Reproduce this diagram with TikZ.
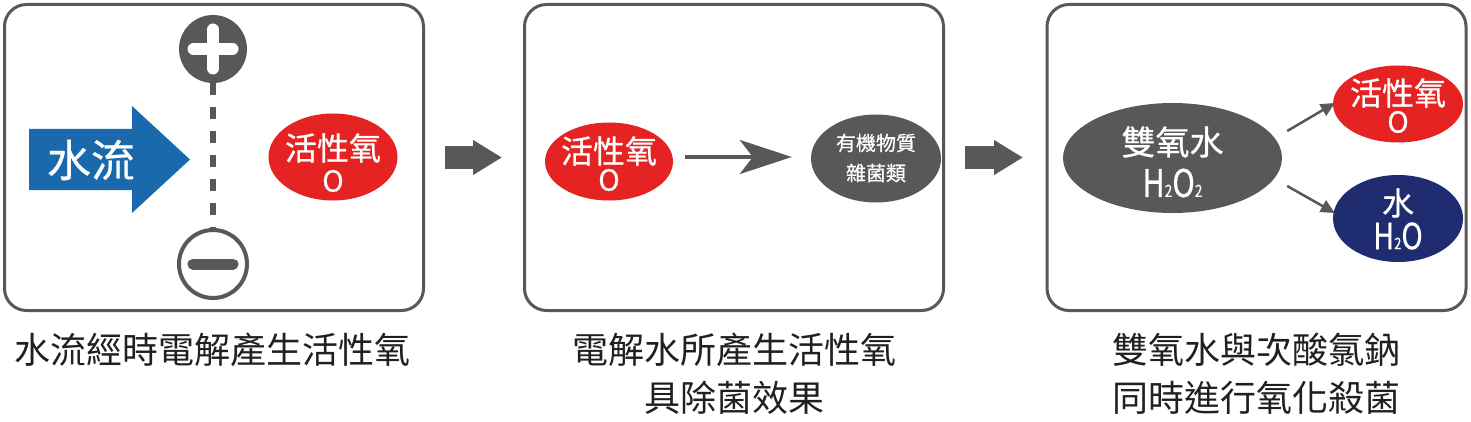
\documentclass[tikz,border=0pt]{standalone}
\usepackage{fontspec}
\newfontfamily\cjk{Noto Sans CJK TC}
\newfontfamily\cjkb[FakeBold=0.6]{Noto Sans CJK TC}
\usetikzlibrary{shapes.geometric,arrows.meta,calc}
\definecolor{dg}{HTML}{595757}
\definecolor{rd}{HTML}{E42322}
\definecolor{bl}{HTML}{1A69AC}
\definecolor{nv}{HTML}{202C70}
\definecolor{tx}{HTML}{231F20}
\tikzset{
  box/.style={draw=dg, line width=3pt, rounded corners=22pt, minimum width=419pt, minimum height=306pt, inner sep=0pt},
  ell/.style={ellipse, inner sep=0pt},
  wt/.style={text=white, inner sep=0pt, font=\cjkb\fontsize{#1}{#1}\selectfont},
  captext/.style={text=tx, inner sep=0pt, align=center, font=\cjk\fontsize{36}{48}\selectfont},
  blockarrow/.style={dg, line width=23pt, -{Triangle[length=29pt,width=33pt]}},
  thinarrow/.style={dg, line width=2.5pt, -{Triangle[length=14pt,width=13pt]}},
}
\begin{document}
\begin{tikzpicture}[x=1pt,y=-1pt]
\useasboundingbox (0,0) rectangle (1471,422);
% boxes
\node[box] (b1) at (214,157.5) {};
\node[box] (b2) at (734,157.5) {};
\node[box] (b3) at (1256.5,157.5) {};
% box 1
\fill[bl] (29,129) -- (132,129) -- (132,106) -- (190,159.5) -- (132,213) -- (132,190) -- (29,190) -- cycle;
\node[wt=44] (flow) at (91,160) {水流};
\node[circle, fill=dg, minimum size=68pt, inner sep=0pt] (plus) at (213,49) {};
\draw[white, line width=12pt, line cap=round] ([xshift=-19.5pt]plus.center) -- ([xshift=19.5pt]plus.center);
\draw[white, line width=12pt, line cap=round] ([yshift=-19.5pt]plus.center) -- ([yshift=19.5pt]plus.center);
\node[circle, draw=dg, line width=4pt, fill=white, minimum size=68pt, inner sep=0pt] (minus) at (213,264) {};
\draw[dg, line width=11pt, line cap=round] ([xshift=-20pt]minus.center) -- ([xshift=20pt]minus.center);
\draw[dg, line width=6pt, dash pattern=on 12pt off 12pt] (plus.south) -- (minus.north);
\node[ell, fill=rd, minimum width=129pt, minimum height=87pt] (o1) at (333,157) {};
\node[wt=32] (o1a) at (333,148) {活性氧};
\node[wt=29] (o1b) at (333,181) {O};
% arrows between boxes
\draw[blockarrow] ([xshift=20pt]b1.east) -- ([xshift=77pt]b1.east);
\draw[blockarrow] ([xshift=20pt]b2.east) -- ([xshift=78pt]b2.east);
% box 2
\node[ell, fill=rd, minimum width=128pt, minimum height=78pt] (o2) at (609,161.5) {};
\node[wt=32] (o2a) at (609,151) {活性氧};
\node[wt=29] (o2b) at (609,180) {O};
\node[ell, fill=dg, minimum width=130pt, minimum height=88pt] (g2) at (876,158.5) {};
\node[wt=20] (g2a) at (876,143) {有機物質};
\node[wt=20] (g2b) at (876,173) {雜菌類};
\draw[dg, line width=4pt, -{Stealth[length=52pt,width=34pt,inset=13pt]}] ([xshift=12pt,yshift=4.5pt]o2.east) -- ([xshift=-19pt,yshift=1.5pt]g2.west);
% box 3
\node[ell, fill=dg, minimum width=219pt, minimum height=110pt] (h) at (1172.5,158) {};
\node[wt=34] (ha) at (1172.5,142) {雙氧水};
\node[wt=38] (hb) at (1172.5,183) {\scalebox{0.8}[1]{H{\fontsize{17}{17}\selectfont 2}O{\fontsize{17}{17}\selectfont 2}}};
\node[ell, fill=rd, minimum width=130pt, minimum height=77pt] (o3) at (1398,104) {};
\node[wt=32] (o3a) at (1398,93) {活性氧};
\node[wt=29] (o3b) at (1398,122) {O};
\node[ell, fill=nv, minimum width=130pt, minimum height=87pt] (w3) at (1398,218.5) {};
\node[wt=32] (w3a) at (1398,203) {水};
\node[wt=36] (w3b) at (1398,236) {\scalebox{0.8}[1]{H{\fontsize{16}{16}\selectfont 2}O}};
\draw[thinarrow] ($(h.east)+(5,-27)$) -- ([xshift=2pt,yshift=1pt]o3.west);
\draw[thinarrow] ($(h.east)+(5,28)$) -- ([xshift=2pt,yshift=5.5pt]w3.west);
% captions
\node[captext] (c1) at (212,350) {水流經時電解產生活性氧};
\node[captext] (c2) at (734,374) {電解水所產生活性氧\\具除菌效果};
\node[captext] (c3) at (1256,374) {雙氧水與次酸氯鈉\\同時進行氧化殺菌};
\end{tikzpicture}
\end{document}
